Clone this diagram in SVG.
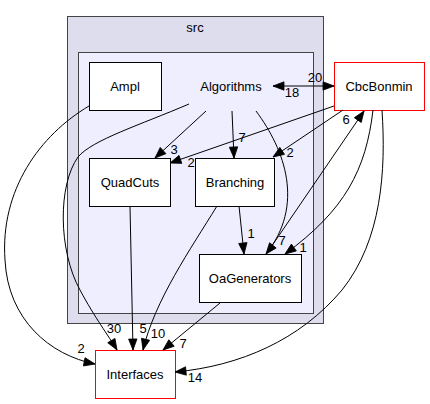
<svg xmlns="http://www.w3.org/2000/svg" width="430" height="404" viewBox="0 0 430 404">
<style>
text{font-family:"Liberation Sans",Arial,sans-serif;font-size:13px;fill:#000;text-anchor:middle}
.node{fill:#fff;stroke:#000;stroke-width:1}
.ext{fill:#fff;stroke:#ff0000;stroke-width:1}
.e{fill:none;stroke:#000;stroke-width:1;marker-end:url(#ah)}
</style>
<defs>
<marker id="ah" markerUnits="userSpaceOnUse" markerWidth="12" markerHeight="10" refX="11" refY="4.5" orient="auto-start-reverse" viewBox="0 0 12 10" overflow="visible">
<polygon points="0,0.3 11,4.5 0,8.7" fill="#000" stroke="#000" stroke-width="0.8"/>
</marker>
</defs>
<rect width="430" height="404" fill="#fff"/>
<g id="cluster_src">
<rect x="67.5" y="16.5" width="256" height="307" fill="#ddddee" stroke="#444" stroke-width="1"/>
<text x="195" y="32">src</text>
</g>
<g id="cluster_Algorithms">
<rect x="78.5" y="52.5" width="235" height="261" fill="#eeeeff" stroke="#444" stroke-width="1"/>
</g>
<g id="node_Algorithms">
<text x="231" y="91">Algorithms</text>
</g>
<g id="node_Ampl">
<rect class="node" x="89.5" y="62.5" width="72" height="48"/>
<text x="125" y="91">Ampl</text>
</g>
<g id="node_QuadCuts">
<rect class="node" x="89.5" y="158.5" width="81" height="48"/>
<text x="130" y="187">QuadCuts</text>
</g>
<g id="node_Branching">
<rect class="node" x="195.5" y="158.5" width="79" height="48"/>
<text x="235" y="187">Branching</text>
</g>
<g id="node_OaGenerators">
<rect class="node" x="199.5" y="254.5" width="102" height="48"/>
<text x="250" y="283">OaGenerators</text>
</g>
<g id="node_CbcBonmin">
<rect class="ext" x="334.5" y="62.5" width="90" height="48"/>
<text x="379" y="91">CbcBonmin</text>
</g>
<g id="node_Interfaces">
<rect class="ext" x="95.5" y="350.5" width="80" height="48"/>
<text x="135" y="379">Interfaces</text>
</g>
<g id="edges">
<path class="e" d="M273,86 L334,86" style="marker-start:url(#ah)"/>
<text x="315" y="82">20</text>
<text x="292" y="97">18</text>
<path class="e" d="M206,111 L155,158"/>
<text x="174" y="154">3</text>
<path class="e" d="M232,111 L234,158"/>
<text x="242" y="142">7</text>
<path class="e" d="M256,111 C285,150 305,205 266,254"/>
<text x="282" y="245">7</text>
<path class="e" d="M334,106 L170,163"/>
<text x="191" y="167">2</text>
<path class="e" d="M343,110 L273,157"/>
<text x="290" y="157">2</text>
<path class="e" d="M267,253 L364,111"/>
<text x="346" y="124">6</text>
<path class="e" d="M373,110 C366,170 345,210 285,254"/>
<text x="303" y="252">1</text>
<path class="e" d="M239,206 L244,254"/>
<text x="251" y="238">1</text>
<path class="e" d="M89,106 C40,135 0,190 5,260 C8,320 50,355 95,364"/>
<text x="81" y="353">2</text>
<path class="e" d="M189,104 C140,125 92,140 78,157 C58,185 58,250 80,290 C95,318 108,335 117,350"/>
<text x="114" y="333">30</text>
<path class="e" d="M130,206 L133,350"/>
<text x="143" y="333">5</text>
<path class="e" d="M217,206 C190,250 155,300 143,350"/>
<text x="158" y="338">10</text>
<path class="e" d="M220,303 L163,350"/>
<text x="183" y="348">7</text>
<path class="e" d="M382,110 C386,170 382,240 342,290 C300,340 240,366 175,372"/>
<text x="195" y="382">14</text>
</g>
</svg>
